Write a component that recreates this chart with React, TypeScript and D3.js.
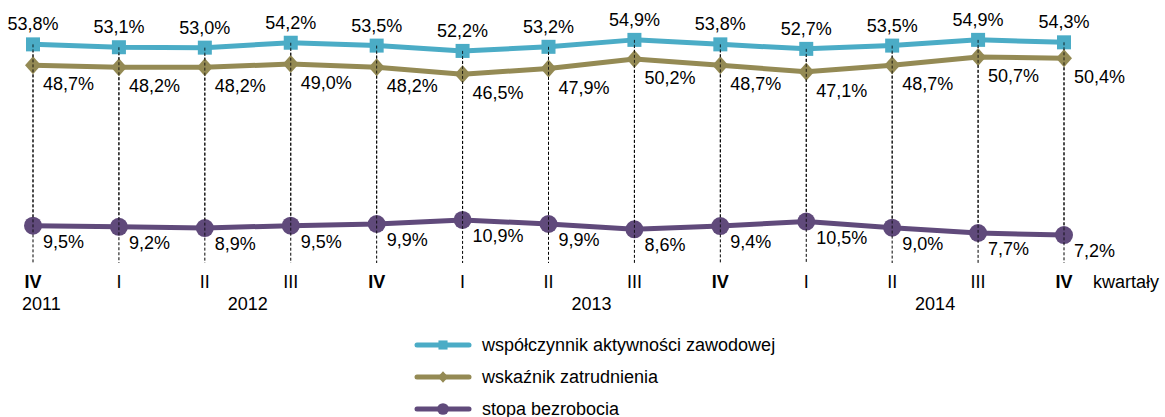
import React, { useEffect, useRef } from 'react';
import * as d3 from 'd3';

const quarters = ['IV', 'I', 'II', 'III', 'IV', 'I', 'II', 'III', 'IV', 'I', 'II', 'III', 'IV'];
const boldQuarter = [true, false, false, false, true, false, false, false, true, false, false, false, true];
const yearLabels = [
  { label: '2011', from: 0, to: 0 },
  { label: '2012', from: 1, to: 4 },
  { label: '2013', from: 5, to: 8 },
  { label: '2014', from: 9, to: 12 },
];
const activity = [53.8, 53.1, 53.0, 54.2, 53.5, 52.2, 53.2, 54.9, 53.8, 52.7, 53.5, 54.9, 54.3];
const employment = [48.7, 48.2, 48.2, 49.0, 48.2, 46.5, 47.9, 50.2, 48.7, 47.1, 48.7, 50.7, 50.4];
const unemployment = [9.5, 9.2, 8.9, 9.5, 9.9, 10.9, 9.9, 8.6, 9.4, 10.5, 9.0, 7.7, 7.2];

const seriesNames = ['współczynnik aktywności zawodowej', 'wskaźnik zatrudnienia', 'stopa bezrobocia'];
const colors = ['#4BACC6', '#948A54', '#604A7B'];

const fmt = (v: number) => v.toFixed(1).replace('.', ',') + '%';

export default function App() {
  const svgRef = useRef<SVGSVGElement>(null);
  const width = 1165;
  const height = 417;

  useEffect(() => {
    document.body.style.margin = '0';
    if (!svgRef.current) return;
    const svg = d3.select(svgRef.current);
    svg.selectAll('*').remove();

    const x = d3.scalePoint<number>().domain(d3.range(quarters.length)).range([33, 1064]);
    const y = d3.scaleLinear().domain([0, 60]).range([264.5, 19]);

    const font = '"Liberation Sans", Arial, sans-serif';

    // drop lines
    svg.append('g')
      .selectAll('line')
      .data(activity)
      .enter()
      .append('line')
      .attr('x1', (_, i) => x(i)!)
      .attr('x2', (_, i) => x(i)!)
      .attr('y1', (d) => y(d))
      .attr('y2', 263)
      .attr('stroke', '#000')
      .attr('stroke-width', 1)
      .attr('stroke-dasharray', '3,2');

    const series = [activity, employment, unemployment];
    const line = d3.line<number>().x((_, i) => x(i)!).y((d) => y(d));

    series.forEach((data, s) => {
      svg.append('path')
        .datum(data)
        .attr('d', line)
        .attr('fill', 'none')
        .attr('stroke', colors[s])
        .attr('stroke-width', 5)
        .attr('stroke-linejoin', 'round');
    });

    const drawMarker = (g: d3.Selection<SVGGElement, unknown, null, undefined>, s: number, cx: number, cy: number, k: number) => {
      if (s === 0) {
        g.append('rect')
          .attr('x', cx - 7 * k).attr('y', cy - 7 * k)
          .attr('width', 14 * k).attr('height', 14 * k)
          .attr('fill', colors[s]);
      } else if (s === 1) {
        g.append('path')
          .attr('d', `M${cx},${cy - 9 * k}L${cx + 8 * k},${cy}L${cx},${cy + 9 * k}L${cx - 8 * k},${cy}Z`)
          .attr('fill', colors[s]);
      } else {
        g.append('circle').attr('cx', cx).attr('cy', cy).attr('r', 9 * k).attr('fill', colors[s]);
      }
    };

    const markers = svg.append('g');
    series.forEach((data, s) => {
      data.forEach((d, i) => drawMarker(markers, s, x(i)!, y(d), 1));
    });

    // redraw dashed line over markers
    svg.append('g')
      .selectAll('line')
      .data(activity)
      .enter()
      .append('line')
      .attr('x1', (_, i) => x(i)!)
      .attr('x2', (_, i) => x(i)!)
      .attr('y1', (d) => y(d))
      .attr('y2', (_, i) => y(unemployment[i]) + 9)
      .attr('stroke', '#000')
      .attr('stroke-width', 1)
      .attr('stroke-dasharray', '3,2')
      .attr('opacity', 0.8);

    // value labels
    const labels = svg.append('g').attr('font-family', font).attr('font-size', 18).attr('fill', '#000');
    activity.forEach((d, i) => {
      labels.append('text').attr('x', x(i)!).attr('y', y(d) - 14).attr('text-anchor', 'middle').text(fmt(d));
    });
    employment.forEach((d, i) => {
      labels.append('text').attr('x', x(i)! + 10).attr('y', y(d) + 25).text(fmt(d));
    });
    unemployment.forEach((d, i) => {
      labels.append('text').attr('x', x(i)! + 10).attr('y', y(d) + 22).text(fmt(d));
    });

    // category axis
    const axis = svg.append('g').attr('font-family', font).attr('font-size', 18).attr('fill', '#000');
    quarters.forEach((q, i) => {
      axis.append('text')
        .attr('x', x(i)!)
        .attr('y', 288)
        .attr('text-anchor', 'middle')
        .attr('font-weight', boldQuarter[i] ? 'bold' : 'normal')
        .text(q);
    });
    yearLabels.forEach((yl) => {
      const cx = (x(yl.from)! + x(yl.to)!) / 2;
      axis.append('text')
        .attr('x', yl.from === yl.to ? cx - 11 : cx)
        .attr('y', 310)
        .attr('text-anchor', yl.from === yl.to ? 'start' : 'middle')
        .text(yl.label);
    });
    axis.append('text').attr('x', 1093).attr('y', 288).text('kwartały');

    // legend
    const legend = svg.append('g').attr('font-family', font).attr('font-size', 18).attr('fill', '#000');
    seriesNames.forEach((name, s) => {
      const ly = 345 + s * 32;
      legend.append('line')
        .attr('x1', 417).attr('x2', 469)
        .attr('y1', ly).attr('y2', ly)
        .attr('stroke', colors[s]).attr('stroke-width', 5).attr('stroke-linecap', 'round');
      drawMarker(legend, s, 443, ly, 0.65);
      legend.append('text').attr('x', 482).attr('y', ly + 6).text(name);
    });
  }, []);

  return <svg ref={svgRef} width={width} height={height} style={{ display: 'block', background: '#fff' }} />;
}
